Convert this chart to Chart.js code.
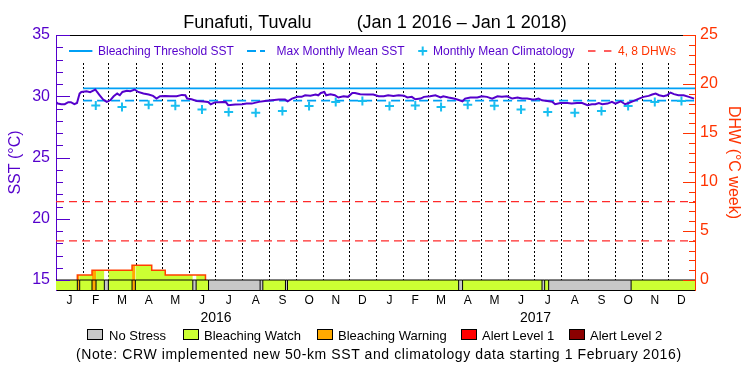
<!DOCTYPE html>
<html>
<head>
<meta charset="utf-8">
<script src="https://cdn.jsdelivr.net/npm/chart.js@4.4.1/dist/chart.umd.min.js"></script>
<style>
html,body{margin:0;padding:0;background:#fff;}
#wrap{position:relative;width:750px;height:375px;font-family:"Liberation Sans",Arial,sans-serif;overflow:hidden;}
#c{position:absolute;left:0;top:0;}
.abs{position:absolute;white-space:nowrap;}
.lt{font-size:12px;line-height:14px;top:44px;color:#5500cc;}
.sym{top:45px;}
.bx{position:absolute;top:329px;width:14px;height:9px;border:1px solid #000;}
.bt{font-size:13px;line-height:15px;top:328px;color:#000;}
#note{font-size:14px;line-height:16px;top:346px;left:76px;letter-spacing:0.6px;color:#000;}
</style>
</head>
<body>
<div id="wrap">
<canvas id="c" width="750" height="375"></canvas>

<svg class="abs sym" style="left:69px" width="24" height="12"><line x1="0" y1="6" x2="23.4" y2="6" stroke="#00a0f5" stroke-width="2"/></svg>
<div class="abs lt" style="left:98px">Bleaching Threshold SST</div>
<svg class="abs sym" style="left:247px" width="19" height="12"><line x1="0" y1="6" x2="18" y2="6" stroke="#00a0f5" stroke-width="2" stroke-dasharray="9 4"/></svg>
<div class="abs lt" style="left:276.5px">Max Monthly Mean SST</div>
<svg class="abs sym" style="left:417px" width="12" height="12"><line x1="1.2" y1="6" x2="10.2" y2="6" stroke="#18bef0" stroke-width="2"/><line x1="5.7" y1="1.5" x2="5.7" y2="10.5" stroke="#18bef0" stroke-width="2"/></svg>
<div class="abs lt" style="left:433px">Monthly Mean Climatology</div>
<svg class="abs sym" style="left:588px" width="24" height="12"><line x1="0" y1="6" x2="23.4" y2="6" stroke="#ff2a2a" stroke-width="1.5" stroke-dasharray="7.5 8.5"/></svg>
<div class="abs lt" style="left:618px;color:#ff3300">4, 8 DHWs</div>

<div class="bx" style="left:87px;background:#c8c8c8"></div>
<div class="abs bt" style="left:109px">No Stress</div>
<div class="bx" style="left:183px;background:#ccff33"></div>
<div class="abs bt" style="left:204px">Bleaching Watch</div>
<div class="bx" style="left:317px;background:#ffaa00"></div>
<div class="abs bt" style="left:338px">Bleaching Warning</div>
<div class="bx" style="left:461px;background:#ff0000"></div>
<div class="abs bt" style="left:482px">Alert Level 1</div>
<div class="bx" style="left:569px;background:#8b0000"></div>
<div class="abs bt" style="left:590px">Alert Level 2</div>
<div id="note" class="abs">(Note: CRW implemented new 50-km SST and climatology data starting 1 February 2016)</div>
</div>

<script>
// ---------------- data ----------------
const monthStarts = [0,31,60,91,121,152,182,213,244,274,305,335,366,397,425,456,486,517,547,578,609,639,670,700,731];
const monthLabels = ['J','F','M','A','M','J','J','A','S','O','N','D','J','F','M','A','M','J','J','A','S','O','N','D'];
const yearLabels = ['2016','2017'];
const sstTicks = [15,20,25,30,35];
const dhwTicks = [0,5,10,15,20,25];

const sstDays = [0,2,6,10,14,17,21,24,27,29,35,39,42,45,47,50,54,58,62,66,70,73,76,81,85,90,94,100,106,111,115,119,125,131,138,144,148,150,155,161,169,174,177,182,
194,197,205,213,218,224,232,239,247,255,262,265,270,276,281,285,291,297,300,303,307,309,314,319,323,329,334,339,342,348,356,363,369,
375,380,386,392,398,402,407,411,417,421,428,434,440,443,449,455,459,465,468,474,482,487,493,499,505,510,516,522,528,533,539,545,
548,552,556,562,568,571,577,585,590,596,602,608,613,617,621,625,631,636,640,646,651,655,661,667,672,678,682,686,690,695,699,703,707,712,718,724,730];
const sstValues = [29.53,29.40,29.35,29.35,29.51,29.51,29.35,29.45,30.22,30.35,30.41,30.33,30.44,30.55,30.35,30.08,29.73,29.54,29.67,30.00,30.22,30.08,30.35,30.44,30.41,30.55,30.35,30.22,30.14,30.03,29.81,30.00,30.03,30.00,30.00,30.11,30.08,29.81,29.75,29.62,29.57,29.54,29.35,29.50,
29.54,29.27,29.32,29.35,29.40,29.40,29.54,29.62,29.67,29.73,29.73,29.59,29.81,29.95,29.95,30.08,30.05,30.14,30.08,30.27,30.35,30.08,30.17,30.08,29.90,30.00,29.95,30.27,30.27,30.17,30.14,30.14,30.00,
30.00,30.08,30.03,30.08,30.05,29.90,29.95,29.75,29.81,29.95,30.00,30.08,29.90,30.00,29.90,29.81,29.73,29.59,29.81,29.90,29.90,30.00,29.95,29.81,30.00,29.95,30.00,29.81,29.90,29.81,29.81,29.73,
29.73,29.81,29.67,29.62,29.54,29.35,29.45,29.45,29.40,29.45,29.45,29.27,29.35,29.35,29.45,29.35,29.40,29.54,29.40,29.59,29.35,29.45,29.62,29.81,29.95,30.03,30.14,30.22,30.08,30.00,30.08,30.30,30.17,30.08,30.08,29.95,29.81];

// climatology, Feb 2016 .. Dec 2017 (month index 1..23)
const climMonthIdx = [1,2,3,4,5,6,7,8,9,10,11,12,13,14,15,16,17,18,19,20,21,22,23];
const climValues = [29.25,29.13,29.31,29.22,28.91,28.72,28.66,28.80,29.21,29.54,29.62,
                    29.21,29.25,29.13,29.31,29.22,28.91,28.72,28.66,28.80,29.21,29.54,29.62];

const mmmValue = 29.65;
const thresholdValue = 30.65;
const mmmStartDay = 31;
const dhwLevels = [4, 8];

const dhwStepDays   = [24.4, 41.2, 87, 109.5, 125, 171];
const dhwStepValues = [0.5, 1.0, 1.5, 1.0, 0.5, 0];

const statusStart = [0, 24.4, 27.1, 41.2, 45.8, 55.3, 59.9, 87, 90.8, 156.5, 160.3, 174.5, 233.5, 236.6, 262.5, 264.8, 460.6, 465.1, 556, 559, 563.6, 657.9];
const statusEnd   = [24.4, 27.1, 41.2, 45.8, 55.3, 59.9, 87, 90.8, 156.5, 160.3, 174.5, 233.5, 236.6, 262.5, 264.8, 460.6, 465.1, 556, 559, 563.6, 657.9, 731];
const statusCode  = ['W','WA','W','WA','W','N','W','WA','W','N','W','N','N','W','N','W','N','W','N','W','N','W'];

// ---------------- styles ----------------
const PURPLE = '#5500cc';
const CYAN = '#00a0f5';
const PLUS = '#18bef0';
const DHWAXIS = '#ff3300';
const DHWLINE = '#ff2a2a';
const OUTLINE = '#ff4000';
const barColor = {N:'#c8c8c8', W:'#ccff33', WA:'#ffaa00', A1:'#ff0000', A2:'#8b0000'};
const dhwFillColor = {N:'#ffffff', W:'#ccff33', WA:'#ffaa00', A1:'#ff0000', A2:'#8b0000'};

const X0 = monthStarts[0], X1 = monthStarts[monthStarts.length-1];
const Y_MIN = 15 - 10 * 20 / 245;      // status strip below 15
const Y2_MIN = 0 - 10 * 25 / 245;

const monthMid = monthLabels.map((_, i) => (monthStarts[i] + monthStarts[i+1]) / 2);
const yearMid = [(monthStarts[0] + monthStarts[12]) / 2, (monthStarts[12] + monthStarts[24]) / 2];

function dhwAt(t) {
  let v = 0;
  for (let i = 0; i < dhwStepDays.length; i++) if (dhwStepDays[i] <= t) v = dhwStepValues[i];
  return v;
}

const datasets = [];

// SST line
datasets.push({label:'SST', data: sstDays.map((d,i)=>({x:d, y:sstValues[i]})),
  borderColor: PURPLE, borderWidth: 2, pointRadius: 0, fill:false, order: 10, yAxisID:'y', xAxisID:'x'});
// climatology
datasets.push({label:'Monthly Mean Climatology',
  data: climMonthIdx.map((m,i)=>({x: monthMid[m], y: climValues[i]})),
  showLine:false, pointStyle:'cross', pointRadius:4.5, pointBorderWidth:2, pointBorderColor: PLUS, borderColor: PLUS,
  order: 12, yAxisID:'y', xAxisID:'x'});
// threshold & MMM
datasets.push({label:'Bleaching Threshold SST', data:[{x:mmmStartDay,y:thresholdValue},{x:X1,y:thresholdValue}],
  borderColor: CYAN, borderWidth: 1.8, pointRadius:0, fill:false, order: 14, yAxisID:'y', xAxisID:'x'});
datasets.push({label:'Max Monthly Mean SST', data:[{x:mmmStartDay,y:mmmValue},{x:X1,y:mmmValue}],
  borderColor: CYAN, borderWidth: 1.8, borderDash:[9,5], pointRadius:0, fill:false, order: 14, yAxisID:'y', xAxisID:'x'});
// 4, 8 DHW lines
dhwLevels.forEach(v => datasets.push({label: v + ' DHW', data:[{x:X0,y:v},{x:X1,y:v}],
  borderColor: DHWLINE, borderWidth: 1.3, borderDash:[8,5], pointRadius:0, fill:false, order: 16, yAxisID:'y2', xAxisID:'x'}));
// status strip
statusStart.forEach((s, i) => datasets.push({label:'status', data:[{x:s,y:15},{x:statusEnd[i],y:15}],
  borderColor:'#000', borderWidth:1, backgroundColor: barColor[statusCode[i]], fill:'start', pointRadius:0,
  order: 30, yAxisID:'y', xAxisID:'x'}));
const bnd = [];
statusStart.slice(1).forEach(b => { bnd.push({x:b,y:Y_MIN},{x:b,y:15},{x:b,y:null}); });
datasets.push({label:'status borders', data: bnd, borderColor:'#000', borderWidth:1, pointRadius:0, fill:false,
  spanGaps:false, order: 28, yAxisID:'y', xAxisID:'x'});
// DHW outline
const dStart = dhwStepDays[0], dEnd = dhwStepDays[dhwStepDays.length-1];
datasets.push({label:'DHW', data: [{x:dStart,y:0}].concat(dhwStepDays.map((d,i)=>({x:d,y:dhwStepValues[i]}))),
  stepped:'before', borderColor: OUTLINE, borderWidth:1.5, pointRadius:0, fill:false, order: 32, yAxisID:'y2', xAxisID:'x'});
// DHW fill coloured by daily status
statusStart.forEach((s, i) => {
  const a = Math.max(s, dStart), b = Math.min(statusEnd[i], dEnd);
  if (a >= b) return;
  const pts = [{x:a, y:dhwAt(a)}];
  dhwStepDays.forEach(t => { if (t > a && t < b) pts.push({x:t, y:dhwAt(t)}); });
  pts.push({x:b, y:dhwAt(b - 1e-6)});
  datasets.push({label:'DHW fill', data: pts, stepped:'before', borderColor:'rgba(0,0,0,0)', borderWidth:0,
    backgroundColor: dhwFillColor[statusCode[i]], fill:'origin', pointRadius:0, order: 34, yAxisID:'y2', xAxisID:'x'});
});

// ---------------- plugins ----------------
const monthGrid = {
  id:'monthGrid',
  beforeDatasetsDraw(chart) {
    const {ctx, chartArea} = chart;
    const xs = chart.scales.x, ys = chart.scales.y;
    const yTop = chartArea.top + 28;
    const yBot = Math.round(ys.getPixelForValue(15));
    ctx.save();
    ctx.fillStyle = '#000';
    monthStarts.slice(1, -1).forEach(d => {
      const px = Math.round(xs.getPixelForValue(d));
      for (let y = yTop; y < yBot; y += 4) ctx.fillRect(px, y, 1, 2);
    });
    ctx.restore();
  }
};
const innerTicks = {
  id:'innerTicks',
  afterDatasetsDraw(chart) {
    const {ctx, chartArea} = chart;
    const ys = chart.scales.y, y2 = chart.scales.y2;
    ctx.save();
    ctx.lineWidth = 1;
    ctx.strokeStyle = PURPLE;
    for (let v = sstTicks[0]; v <= sstTicks[sstTicks.length-1]; v++) {
      const p = Math.round(ys.getPixelForValue(v)) + 0.5;
      const len = sstTicks.includes(v) ? 14 : 7;
      ctx.beginPath(); ctx.moveTo(chartArea.left, p); ctx.lineTo(chartArea.left + len, p); ctx.stroke();
    }
    ctx.strokeStyle = DHWAXIS;
    for (let v = dhwTicks[0]; v <= dhwTicks[dhwTicks.length-1]; v++) {
      const p = Math.round(y2.getPixelForValue(v)) + 0.5;
      const len = dhwTicks.includes(v) ? 12 : 6;
      ctx.beginPath(); ctx.moveTo(chartArea.right, p); ctx.lineTo(chartArea.right - len, p); ctx.stroke();
    }
    ctx.restore();
  }
};

// ---------------- chart ----------------
Chart.defaults.font.family = "'Liberation Sans', Arial, sans-serif";
new Chart(document.getElementById('c'), {
  type:'line',
  data:{datasets},
  plugins:[monthGrid, innerTicks],
  options:{
    responsive:false, animation:false, events:[],
    elements:{line:{tension:0}},
    layout:{padding:{left:0,right:0,top:0,bottom:45}},
    plugins:{
      legend:{display:false},
      tooltip:{enabled:false},
      title:{display:true, text:'Funafuti, Tuvalu         (Jan 1 2016 \u2013 Jan 1 2018)', color:'#000',
        font:{size:18, weight:'normal'}, padding:{top:12.5, bottom:0.9}}
    },
    scales:{
      x:{type:'linear', position:'bottom', min:X0, max:X1, weight:0,
        afterBuildTicks:s=>{ s.ticks = monthMid.map(v=>({value:v})); },
        afterFit:s=>{ s.height = 18; },
        ticks:{autoSkip:false, maxRotation:0, color:'#000', font:{size:12}, padding:3,
          callback:(v,i)=>monthLabels[i]},
        grid:{display:false, drawTicks:false},
        border:{display:true, color:'#000', width:1}},
      x2:{type:'linear', position:'bottom', min:X0, max:X1, weight:1,
        afterBuildTicks:s=>{ s.ticks = yearMid.map(v=>({value:v})); },
        afterFit:s=>{ s.height = 22; },
        ticks:{autoSkip:false, maxRotation:0, color:'#000', font:{size:14}, padding:2,
          callback:(v,i)=>yearLabels[i]},
        grid:{display:false, drawTicks:false},
        border:{display:false}},
      xTop:{type:'linear', position:'top', min:X0, max:X1,
        afterFit:s=>{ s.height = 0; },
        ticks:{display:false}, grid:{display:false, drawTicks:false},
        border:{display:true, color:'#000', width:1}},
      y:{type:'linear', position:'left', min:Y_MIN, max:35,
        afterBuildTicks:s=>{ s.ticks = sstTicks.map(v=>({value:v})); },
        afterFit:s=>{ s.width = 56; },
        ticks:{color:PURPLE, font:{size:16}, padding:6},
        grid:{display:false, drawTicks:false},
        border:{display:true, color:PURPLE, width:1},
        title:{display:true, text:'SST (\u00B0C)', color:PURPLE, font:{size:16}, padding:{top:6,bottom:0}}},
      y2:{type:'linear', position:'right', min:Y2_MIN, max:25,
        afterBuildTicks:s=>{ s.ticks = dhwTicks.map(v=>({value:v})); },
        afterFit:s=>{ s.width = 55; },
        ticks:{color:DHWAXIS, font:{size:16}, padding:5},
        grid:{display:false, drawTicks:false},
        border:{display:true, color:DHWAXIS, width:1},
        title:{display:true, text:'DHW (\u00B0C week)', color:DHWAXIS, font:{size:16}, padding:{top:7,bottom:0}}}
    }
  }
});
</script>
</body>
</html>
